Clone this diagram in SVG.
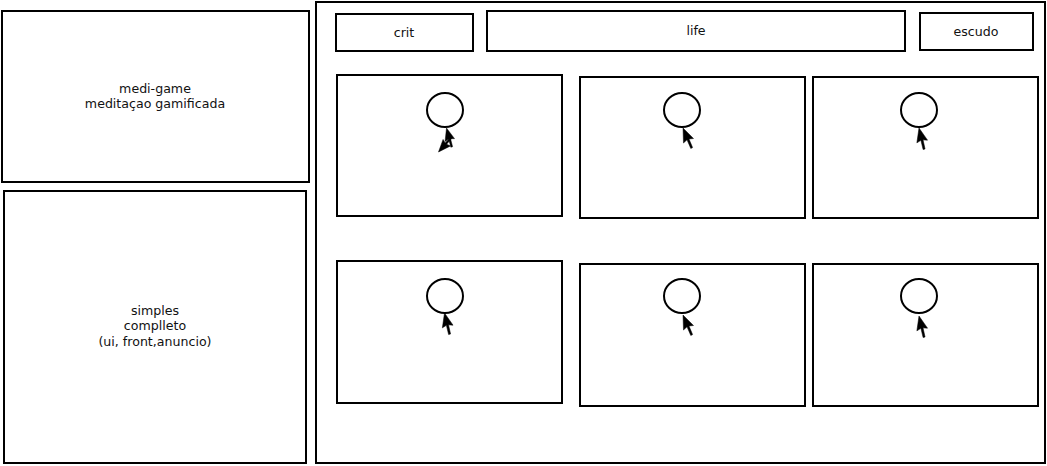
<svg xmlns="http://www.w3.org/2000/svg" width="1047" height="466" viewBox="0 0 1047 466">
<style>
rect{fill:#fff;stroke:#000;stroke-width:2}
ellipse{fill:#fff;stroke:#000;stroke-width:2}
text{font-family:"DejaVu Sans",sans-serif;font-size:12.6px;fill:#111;text-anchor:middle}
.cur{fill:#000;stroke:#000;stroke-width:0.5}
</style>
<defs>
<path id="cursor" d="M0,0 L0.5,15 L4,11.8 L7.8,20.5 L9.6,19.6 L6,11 L10.5,10.5 Z"/>
</defs>
<rect width="1047" height="466" style="fill:#fff;stroke:none"/>
<g id="title">
<rect x="2" y="11" width="307" height="171"/>
<text x="155" y="93">medi-game</text>
<text x="155" y="108">meditaçao gamificada</text>
</g>
<g id="notes">
<rect x="4" y="191" width="302" height="272"/>
<text x="155" y="315">simples</text>
<text x="155" y="330">complleto</text>
<text x="155" y="346">(ui, front,anuncio)</text>
</g>
<g id="screen">
<rect x="316" y="2" width="729" height="461"/>
</g>
<g id="crit"><rect x="336" y="14" width="137" height="37"/><text x="404" y="37">crit</text></g>
<g id="life"><rect x="487" y="11" width="418" height="40"/><text x="696" y="35">life</text></g>
<g id="escudo"><rect x="920" y="13" width="113" height="37"/><text x="976" y="36">escudo</text></g>
<g id="card1"><rect x="337" y="75" width="225" height="141"/><ellipse cx="445" cy="110" rx="18" ry="17"/></g>
<g id="card2"><rect x="580" y="77" width="225" height="141"/><ellipse cx="682" cy="110" rx="18" ry="17"/></g>
<g id="card3"><rect x="813" y="77" width="225" height="141"/><ellipse cx="919" cy="110" rx="18" ry="17"/></g>
<g id="card4"><rect x="337" y="261" width="225" height="142"/><ellipse cx="445" cy="296" rx="18" ry="17"/></g>
<g id="card5"><rect x="580" y="264" width="225" height="142"/><ellipse cx="682" cy="296" rx="18" ry="17"/></g>
<g id="card6"><rect x="813" y="264" width="225" height="142"/><ellipse cx="919" cy="296" rx="18" ry="17"/></g>
<g id="cursors">
<use href="#cursor" class="cur" transform="translate(446.5,128) rotate(8) scale(0.9)"/>
<use href="#cursor" class="cur" transform="translate(438.5,152) rotate(-115) scale(0.9)"/>
<use href="#cursor" class="cur" transform="translate(683,128)"/>
<use href="#cursor" class="cur" transform="translate(919,128) rotate(10)"/>
<use href="#cursor" class="cur" transform="translate(444.5,313) rotate(10)"/>
<use href="#cursor" class="cur" transform="translate(683,315)"/>
<use href="#cursor" class="cur" transform="translate(919,316) rotate(10)"/>
</g>
</svg>
